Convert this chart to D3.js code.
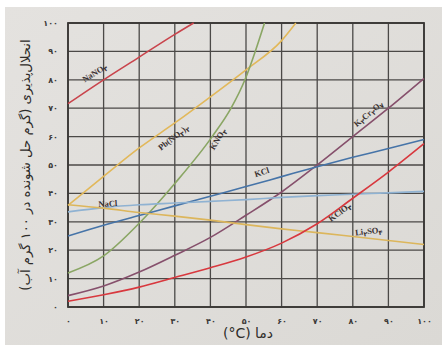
<!DOCTYPE html>
<html>
<head>
<meta charset="utf-8">
<script src="https://cdn.jsdelivr.net/npm/d3@7"></script>
<style>
  body { margin: 0; background: #fff; }
  svg { display: block; }
</style>
</head>
<body>
<div id="chart"></div>
<script>
// tick values (temperature and solubility)
const xTicks = [0, 10, 20, 30, 40, 50, 60, 70, 80, 90, 100];
const yTicks = [0, 10, 20, 30, 40, 50, 60, 70, 80, 90, 100];

// curves: [temperature, grams per 100 g water]
const nano3 = [[0, 71.6], [10, 80], [20, 88], [30, 96], [35.3, 100]];
const pbno32 = [[0, 35.8], [10, 46], [20, 56], [30, 64.8], [40, 74], [50, 83.5], [60, 93.8], [64, 100]];
const kno3 = [[0, 12], [10, 18], [20, 29.5], [30, 43.5], [40.5, 60], [45.8, 70], [49.7, 80], [52.6, 90], [55.2, 100]];
const k2cr2o7 = [[0, 4], [10, 7.4], [20, 12.3], [30, 18.2], [40, 24.5], [50, 32.3], [60, 40.5], [70, 50], [80, 60], [90, 70], [100, 80.5]];
const kcl = [[0, 25], [10, 28.8], [20, 32.2], [30, 35.6], [40, 39], [50, 42.4], [60, 45.9], [70, 49.4], [80, 52.7], [90, 55.8], [100, 59]];
const nacl = [[0, 33.5], [10, 35], [20, 36], [30, 36.6], [40, 37.2], [50, 37.8], [60, 38.6], [70, 39.2], [80, 39.7], [90, 40.2], [100, 40.7]];
const li2so4 = [[0, 36], [10, 34.8], [20, 33.3], [30, 32], [40, 30.6], [50, 29], [60, 27.5], [70, 26.2], [80, 24.8], [90, 23.4], [100, 22]];
const kclo3 = [[0, 2], [10, 4.3], [20, 7], [30, 10.4], [40, 13.8], [50, 17.6], [60, 22.5], [70, 29.3], [80, 38.3], [90, 47.5], [100, 57.5]];

// curve names (subscripts written as Persian digits, as in the picture)
const names = [
  ["NaNO", "۳"],
  ["Pb(NO", "۳", ")", "۲"],
  ["KNO", "۳"],
  ["K", "۲", "Cr", "۲", "O", "۷"],
  ["KCl"],
  ["NaCl"],
  ["Li", "۲", "SO", "۴"],
  ["KClO", "۳"]
];

const yTitle = "انحلال‌پذیری (گرم حل شونده در ۱۰۰ گرم آب)";
const xTitle = "(°C) دما";

const width = 442;
const height = 349;

const faDigits = "۰۱۲۳۴۵۶۷۸۹";
const toFa = function (n) { return String(n).replace(/[0-9]/g, function (c) { return faDigits[+c]; }); };

const svg = d3.select("#chart").append("svg")
  .attr("width", width)
  .attr("height", height);

// paper
const grad = svg.append("defs").append("linearGradient")
  .attr("id", "paper").attr("x1", 0).attr("y1", 0).attr("x2", 1).attr("y2", 1);
grad.append("stop").attr("offset", "0%").attr("stop-color", "#e4e2df");
grad.append("stop").attr("offset", "100%").attr("stop-color", "#dbd9d5");
svg.append("rect")
  .attr("x", 5).attr("y", 7).attr("width", width - 5).attr("height", 338)
  .attr("fill", "url(#paper)");

// scales
const x = d3.scaleLinear().domain([0, 100]).range([68, 424]);
const y = d3.scaleLinear().domain([0, 100]).range([307, 23]);

// grid
const grid = svg.append("g").attr("stroke", "#4b4947").attr("stroke-width", 1.3);
grid.selectAll("line.v").data(xTicks).enter().append("line")
  .attr("class", "v")
  .attr("x1", function (d) { return x(d); }).attr("x2", function (d) { return x(d); })
  .attr("y1", y(0)).attr("y2", y(100));
grid.selectAll("line.h").data(yTicks).enter().append("line")
  .attr("class", "h")
  .attr("x1", x(0)).attr("x2", x(100))
  .attr("y1", function (d) { return y(d); }).attr("y2", function (d) { return y(d); });
svg.append("rect")
  .attr("x", x(0)).attr("y", y(100))
  .attr("width", x(100) - x(0)).attr("height", y(0) - y(100))
  .attr("fill", "none").attr("stroke", "#3a3836").attr("stroke-width", 1.8);

// axes (labels only)
const yAxis = svg.append("g")
  .attr("transform", "translate(" + x(0) + ",0)")
  .call(d3.axisLeft(y).tickValues(yTicks).tickSize(0).tickPadding(10).tickFormat(toFa));
const xAxis = svg.append("g")
  .attr("transform", "translate(0," + y(0) + ")")
  .call(d3.axisBottom(x).tickValues(xTicks).tickSize(0).tickPadding(11).tickFormat(toFa));
[yAxis, xAxis].forEach(function (a) {
  a.select(".domain").remove();
  a.selectAll("text")
    .attr("fill", "#3c3a38")
    .style("font-family", "DejaVu Sans")
    .style("font-size", "8px")
    .style("font-weight", "bold");
});

// curves
const line = d3.line()
  .x(function (d) { return x(d[0]); })
  .y(function (d) { return y(d[1]); })
  .curve(d3.curveMonotoneX);

const series = [
  { data: nano3, color: "#c9444c" },
  { data: pbno32, color: "#e2b85a" },
  { data: kno3, color: "#8aa664" },
  { data: k2cr2o7, color: "#86506c" },
  { data: kcl, color: "#4674a8" },
  { data: nacl, color: "#8fb2d2" },
  { data: li2so4, color: "#dcb65c" },
  { data: kclo3, color: "#d8383e" }
];

svg.append("g").selectAll("path")
  .data(series).enter()
  .append("path")
  .attr("d", function (d) { return line(d.data); })
  .attr("fill", "none")
  .attr("stroke", function (d) { return d.color; })
  .attr("stroke-width", 1.6);

// curve labels, anchored in data space: [temperature, solubility, angle]
const labelAt = [
  [7.6, 82.2, -32],
  [29.8, 59.5, -38],
  [42.3, 59, -58],
  [84.5, 67.8, -40],
  [54.5, 47.2, -18],
  [11.2, 36.1, -3],
  [84.5, 26.4, -6],
  [76.5, 33.2, -36]
];

const labels = svg.append("g")
  .style("font-family", "Liberation Serif")
  .style("font-weight", "bold")
  .style("font-size", "8.5px")
  .attr("fill", "#3b3232");

labels.selectAll("text")
  .data(names).enter()
  .append("text")
  .attr("text-anchor", "middle")
  .attr("dominant-baseline", "middle")
  .attr("transform", function (d, i) {
    const p = labelAt[i];
    return "translate(" + x(p[0]) + "," + y(p[1]) + ") rotate(" + p[2] + ")";
  })
  .each(function (parts) {
    const t = d3.select(this);
    parts.forEach(function (s, j) {
      const sub = /[۰-۹]/.test(s);
      t.append("tspan")
        .attr("font-family", sub ? "DejaVu Sans" : null)
        .attr("font-size", sub ? "6.5px" : null)
        .attr("dy", sub ? 2 : (j > 0 ? -2 : 0))
        .text(s);
    });
  });

// axis titles
svg.append("text")
  .attr("transform", "translate(30,165) rotate(-90)")
  .attr("text-anchor", "middle")
  .attr("direction", "rtl")
  .attr("fill", "#2e2c2a")
  .style("font-family", "DejaVu Sans")
  .style("font-size", "13.2px")
  .text(yTitle);

svg.append("text")
  .attr("x", 248)
  .attr("y", 338)
  .attr("text-anchor", "middle")
  .attr("fill", "#2e2c2a")
  .style("font-family", "DejaVu Sans")
  .style("font-size", "14px")
  .text(xTitle);
</script>
</body>
</html>
